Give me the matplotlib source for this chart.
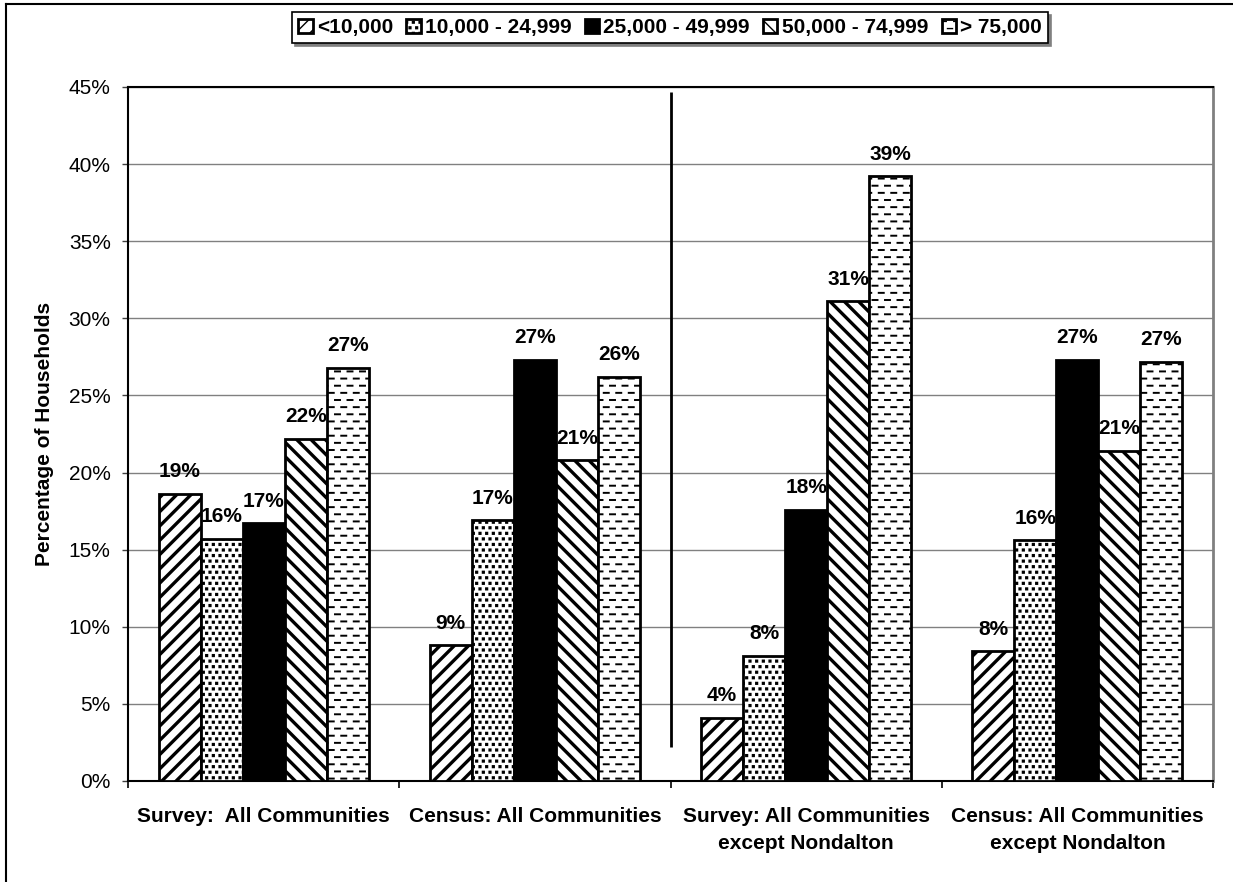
import numpy as np
import matplotlib
matplotlib.use("Agg")
import matplotlib.pyplot as plt
import matplotlib.hatch as mhatch
from matplotlib.path import Path
from matplotlib.lines import Line2D
from matplotlib.ticker import FuncFormatter, MultipleLocator

plt.rcParams['font.family'] = ['Liberation Sans', 'DejaVu Sans']

groups = ['Survey:  All Communities', 'Census: All Communities',
          'Survey: All Communities\nexcept Nondalton',
          'Census: All Communities\nexcept Nondalton']
income_bands = ['<10,000', '10,000 - 24,999', '25,000 - 49,999',
                '50,000 - 74,999', '> 75,000']

under_10k = [18.6, 8.8, 4.1, 8.4]
from_10k = [15.7, 16.9, 8.1, 15.6]
from_25k = [16.7, 27.3, 17.6, 27.3]
from_50k = [22.2, 20.8, 31.1, 21.4]
over_75k = [26.8, 26.2, 39.2, 27.2]


# --- hatch patterns closer to the old office-style fills -------------------
class Stripes(mhatch.HatchPatternBase):
    """Diagonal stripes, 14 per inch, '/' or '\\'."""
    def __init__(self, hatch, density):
        self.sign = 1 if self.char == '/' else -1
        self.num_lines = 14 * hatch.count(self.char)
        self.num_vertices = (self.num_lines + 1) * 2 if self.num_lines else 0

    def set_vertices_and_codes(self, vertices, codes):
        steps = np.linspace(-0.5, 0.5, self.num_lines + 1)
        if self.sign > 0:
            vertices[0::2, 0] = 0.0 + steps
            vertices[0::2, 1] = 0.0 - steps
            vertices[1::2, 0] = 1.0 + steps
            vertices[1::2, 1] = 1.0 - steps
        else:
            vertices[0::2, 0] = 0.0 + steps
            vertices[0::2, 1] = 1.0 + steps
            vertices[1::2, 0] = 1.0 + steps
            vertices[1::2, 1] = 0.0 + steps
        codes[0::2] = Path.MOVETO
        codes[1::2] = Path.LINETO


class ForwardStripes(Stripes):
    char = '/'


class BackStripes(Stripes):
    char = '\\'


class SquareDots(mhatch.HatchPatternBase):
    """Staggered grid of small filled squares."""
    def __init__(self, hatch, density):
        n = hatch.count('.')
        self.num_vertices = 0
        if not n:
            return
        rows, cols, h = 18 * n, 15, 0.009
        square = np.array([[-h, -h], [h, -h], [h, h], [-h, h], [-h, -h]])
        verts = []
        for r in range(rows + 1):
            shift = 0.0 if r % 2 == 0 else 0.5 / cols
            for k in range(cols + 1):
                verts.append(square + [k / cols + shift, r / rows])
        self._verts = np.concatenate(verts)
        one = [Path.MOVETO, Path.LINETO, Path.LINETO, Path.LINETO, Path.CLOSEPOLY]
        self._codes = np.tile(one, len(verts))
        self.num_vertices = len(self._verts)

    def set_vertices_and_codes(self, vertices, codes):
        vertices[:] = self._verts
        codes[:] = self._codes


class DashRows(mhatch.HatchPatternBase):
    """Rows of short horizontal dashes, alternate rows offset."""
    def __init__(self, hatch, density):
        n = hatch.count('-')
        self.num_vertices = 0
        if not n:
            return
        rows, cols = 14 * n, 8
        half = 0.2 / cols
        segs = []
        for r in range(rows + 1):
            shift = 0.0 if r % 2 == 0 else 0.5 / cols
            for k in range(cols + 1):
                x = k / cols + shift
                segs.append([[x - half, r / rows], [x + half, r / rows]])
        self._verts = np.array(segs).reshape(-1, 2)
        self._codes = np.tile([Path.MOVETO, Path.LINETO], len(segs))
        self.num_vertices = len(self._verts)

    def set_vertices_and_codes(self, vertices, codes):
        vertices[:] = self._verts
        codes[:] = self._codes


mhatch._hatch_types[:] = [ForwardStripes, BackStripes, SquareDots, DashRows]

series = [under_10k, from_10k, from_25k, from_50k, over_75k]
styles = [  # facecolor, hatch, hatch linewidth
    ('white', '/', 2.4),
    ('white', '.', 1.0),
    ('black', None, 1.0),
    ('white', '\\', 2.4),
    ('white', '-', 1.4),
]

fig = plt.figure(figsize=(12.33, 8.82), dpi=100)
ax = fig.add_axes([128 / 1233, 1 - 781 / 882, 1085 / 1233, 694 / 882])

x = np.arange(len(groups))
width = 0.155
containers = []
for i, (vals, (fc, hatch, hlw)) in enumerate(zip(series, styles)):
    with plt.rc_context({'hatch.linewidth': hlw, 'hatch.color': 'black'}):
        bars = ax.bar(x + (i - 2) * width, vals, width, color=fc,
                      edgecolor='black', linewidth=2.0, hatch=hatch,
                      label=income_bands[i], zorder=3)
        for b in bars:
            if hasattr(b, 'set_hatch_linewidth'):
                b.set_hatch_linewidth(hlw)
    containers.append(bars)
    for b, v in zip(bars, vals):
        ax.annotate(f'{v:.0f}%', (b.get_x() + b.get_width() / 2, v),
                    xytext=(0, 12), textcoords='offset points',
                    ha='center', va='baseline', fontsize=15,
                    fontweight='bold', zorder=5)

# separator between the all-community and the reduced sets
ax.plot([1.5, 1.5], [2.2, 44.7], color='black', lw=2.0, zorder=4,
        solid_capstyle='butt')

ax.set_xlim(-0.5, len(groups) - 0.5)
ax.set_ylim(0, 45)
ax.yaxis.set_major_locator(MultipleLocator(5))
ax.yaxis.set_major_formatter(FuncFormatter(lambda v, p: f'{v:.0f}%'))
ax.yaxis.grid(True, color='#808080', lw=1.0)
ax.set_axisbelow(True)

ax.set_xticks(x)
ax.set_xticklabels(groups, fontsize=15, fontweight='bold', va='top',
                   linespacing=1.5)
ax.set_xticks(np.arange(len(groups) + 1) - 0.5, minor=True)
ax.tick_params(axis='x', which='major', length=0, pad=19)
ax.tick_params(axis='x', which='minor', length=5, width=1.2, direction='out')
ax.tick_params(axis='y', length=4.5, width=1.0, direction='out', pad=8,
               labelsize=15, color='#404040')

for side in ['left', 'bottom', 'top']:
    ax.spines[side].set_color('black')
    ax.spines[side].set_linewidth(1.5)
ax.spines['right'].set_color('#808080')
ax.spines['right'].set_linewidth(2.0)

fig.text(45 / 1233, 1 - 434 / 882, 'Percentage of Households', rotation=90,
         ha='center', va='center', fontsize=15, fontweight='bold')

leg = fig.legend(handles=containers, labels=income_bands, loc='center',
                 bbox_to_anchor=(670 / 1233, 1 - 27.5 / 882), ncol=5,
                 prop={'size': 15, 'weight': 'bold'}, frameon=True,
                 fancybox=False, shadow={'color': '#808080', 'alpha': 1.0},
                 handlelength=0.68, handleheight=0.68, handletextpad=0.2,
                 columnspacing=0.65, borderpad=0.3, borderaxespad=0)
leg.get_frame().set_edgecolor('black')
leg.get_frame().set_linewidth(1.2)

# outer chart border (left and top only are inside the image)
fig.add_artist(Line2D([6 / 1233, 6 / 1233], [0, 1 - 4 / 882],
                      transform=fig.transFigure, color='black', lw=1.5))
fig.add_artist(Line2D([6 / 1233, 1], [1 - 4 / 882, 1 - 4 / 882],
                      transform=fig.transFigure, color='black', lw=1.5))

fig.savefig('out.png', dpi=100)
